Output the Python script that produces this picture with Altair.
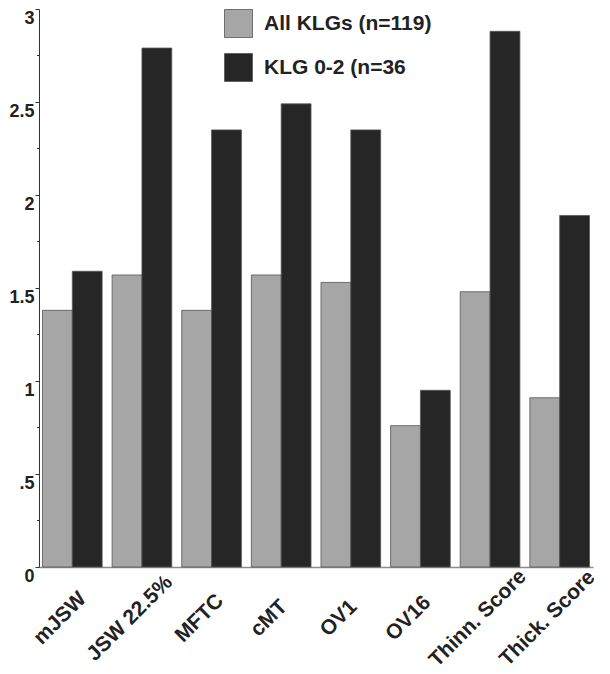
import altair as alt
import pandas as pd

categories = ["mJSW", "JSW 22.5%", "MFTC", "cMT", "OV1", "OV16", "Thinn. Score", "Thick. Score"]
series_names = ["All KLGs (n=119)", "KLG 0-2 (n=36"]
all_klgs = [1.38, 1.57, 1.38, 1.57, 1.53, 0.76, 1.48, 0.91]
klg02 = [1.59, 2.79, 2.35, 2.49, 2.35, 0.95, 2.88, 1.89]
y_ticks = [0, 0.5, 1, 1.5, 2, 2.5, 3]
minor_ticks = [0.25, 0.75, 1.25, 1.75, 2.25, 2.75]
colors = ["#a6a6a6", "#262626"]

rows = []
for i, c in enumerate(categories):
    rows.append({"cat": c, "series": series_names[0], "value": all_klgs[i]})
    rows.append({"cat": c, "series": series_names[1], "value": klg02[i]})
df = pd.DataFrame(rows)
minor_df = pd.DataFrame({"v": minor_ticks})

FONT = "Liberation Sans"

yscale = alt.Scale(domain=[0, 3], nice=False, zero=True)

bars = alt.Chart(df).mark_bar(stroke="#555555", strokeWidth=0.8).encode(
    x=alt.X("cat:N", sort=categories, title=None,
            scale=alt.Scale(paddingInner=0.143, paddingOuter=0.05),
            axis=alt.Axis(labelAngle=-45, labelAlign="center", labelBaseline="middle",
                          labelPadding=51, labelOffset=-12, ticks=False,
                          labelFontSize=21, labelFontWeight="bold", labelFont=FONT,
                          labelColor="#222222", domainColor="#8c8c8c", domainWidth=1.5,
                          labelLimit=300)),
    xOffset=alt.XOffset("series:N", sort=series_names,
                        scale=alt.Scale(paddingInner=0, paddingOuter=0)),
    y=alt.Y("value:Q", scale=yscale, title=None,
            axis=alt.Axis(values=y_ticks, tickSize=4, tickColor="#333333", domainColor="#333333",
                          labelBaseline="top", labelFontSize=18, labelFontWeight="bold",
                          labelFont=FONT, labelColor="#222222", labelPadding=1, grid=False,
                          labelExpr="datum.value == 0.5 ? '.5' : format(datum.value, '~g')")),
    color=alt.Color("series:N", sort=series_names,
                    scale=alt.Scale(domain=series_names, range=colors),
                    legend=alt.Legend(title=None, orient="none", legendX=185, legendY=0,
                                      symbolType="square", symbolSize=784,
                                      symbolStrokeColor="#555555", symbolStrokeWidth=0.8,
                                      labelFontSize=21, labelFontWeight="bold", labelFont=FONT,
                                      labelColor="#222222", labelOffset=11, rowPadding=11,
                                      labelLimit=400, symbolOpacity=1)),
)

minor = alt.Chart(minor_df).mark_rule(color="#333333", strokeWidth=1).encode(
    y=alt.Y("v:Q", scale=yscale),
    x=alt.value(-2),
    x2=alt.value(0),
)

chart = alt.layer(bars, minor).properties(
    width=554, height=558, padding=0
).configure_view(stroke=None)

chart.save("out.html", embed_options={"renderer": "svg", "actions": False})
